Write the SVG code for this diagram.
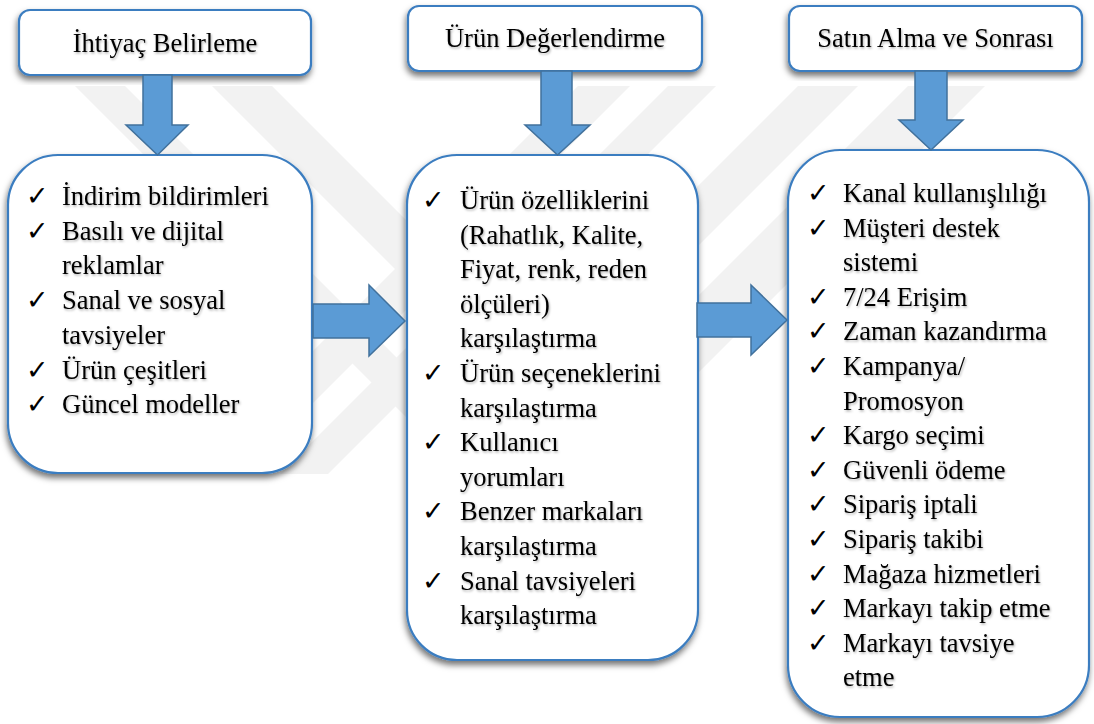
<svg xmlns="http://www.w3.org/2000/svg" width="1094" height="724" viewBox="0 0 1094 724">
  <defs>
    <filter id="boxShadow" x="-10%" y="-10%" width="120%" height="125%">
      <feDropShadow dx="-1" dy="4" stdDeviation="3" flood-color="#000" flood-opacity="0.55"/>
    </filter>
    <filter id="textShadow" x="-5%" y="-20%" width="110%" height="150%">
      <feDropShadow dx="1" dy="1.5" stdDeviation="0.8" flood-color="#000" flood-opacity="0.3"/>
    </filter>
    <clipPath id="wmClip">
      <rect x="0" y="86" width="1094" height="388"/>
    </clipPath>
    <style>
      .hdr { fill: #ffffff; stroke: #3b7dc0; stroke-width: 2.2; filter: url(#boxShadow); }
      .card { fill: #ffffff; stroke: #3b7dc0; stroke-width: 2.2; filter: url(#boxShadow); }
      .arrow { fill: #5b9bd5; stroke: #41719c; stroke-width: 1.5; stroke-linejoin: miter; }
      .title { font-family: "Liberation Serif", "Times New Roman", serif; font-size: 26.5px; fill: #000; text-anchor: middle; filter: url(#textShadow); }
      .item { font-family: "Liberation Serif", "Times New Roman", serif; font-size: 26.5px; fill: #000; filter: url(#textShadow); }
      .tick { font-family: "DejaVu Sans", sans-serif; font-size: 27px; fill: #000; }
      .wm { fill: #f2f2f2; }
    </style>
  </defs>

  <rect width="1094" height="724" fill="#ffffff"/>

  <!-- faint background watermark bands -->
  <g id="watermark" clip-path="url(#wmClip)">
    <polygon class="wm" points="75,86 125,86 525,486 475,486"/>
    <polygon class="wm" points="212,86 272,86 672,486 612,486"/>
    <polygon class="wm" points="578,86 630,86 230,486 178,486"/>
    <polygon class="wm" points="668,86 716,86 316,486 268,486"/>
    <polygon class="wm" points="798,86 858,86 458,486 398,486"/>
    <polygon class="wm" points="908,86 985,86 585,486 508,486"/>
  </g>

  <!-- stage headers -->
  <g id="header-ihtiyac">
    <rect class="hdr" x="19" y="10" width="292" height="65" rx="11"/>
    <text class="title" x="165" y="52">İhtiyaç Belirleme</text>
  </g>
  <g id="header-urun">
    <rect class="hdr" x="408" y="6" width="294" height="65" rx="11"/>
    <text class="title" x="555" y="47">Ürün Değerlendirme</text>
  </g>
  <g id="header-satin">
    <rect class="hdr" x="789" y="6" width="293" height="65" rx="11"/>
    <text class="title" x="935.5" y="47">Satın Alma ve Sonrası</text>
  </g>

  <!-- stage detail cards -->
  <g id="card-ihtiyac">
    <rect class="card" x="8" y="155" width="304" height="318" rx="50"/>
    <g class="tick">
      <text x="26" y="205">✓</text>
      <text x="26" y="239.7">✓</text>
      <text x="26" y="309.1">✓</text>
      <text x="26" y="378.5">✓</text>
      <text x="26" y="413.2">✓</text>
    </g>
    <g class="item">
      <text x="62" y="205">İndirim bildirimleri</text>
      <text x="62" y="239.7">Basılı ve dijital</text>
      <text x="62" y="274.4">reklamlar</text>
      <text x="62" y="309.1">Sanal ve sosyal</text>
      <text x="62" y="343.8">tavsiyeler</text>
      <text x="62" y="378.5">Ürün çeşitleri</text>
      <text x="62" y="413.2">Güncel modeller</text>
    </g>
  </g>

  <g id="card-urun">
    <rect class="card" x="407" y="155" width="291" height="505" rx="50"/>
    <g class="tick">
      <text x="422" y="209">✓</text>
      <text x="422" y="382">✓</text>
      <text x="422" y="451.2">✓</text>
      <text x="422" y="520.4">✓</text>
      <text x="422" y="589.6">✓</text>
    </g>
    <g class="item">
      <text x="460" y="209">Ürün özelliklerini</text>
      <text x="460" y="243.6">(Rahatlık, Kalite,</text>
      <text x="460" y="278.2">Fiyat, renk, reden</text>
      <text x="460" y="312.8">ölçüleri)</text>
      <text x="460" y="347.4">karşılaştırma</text>
      <text x="460" y="382">Ürün seçeneklerini</text>
      <text x="460" y="416.6">karşılaştırma</text>
      <text x="460" y="451.2">Kullanıcı</text>
      <text x="460" y="485.8">yorumları</text>
      <text x="460" y="520.4">Benzer markaları</text>
      <text x="460" y="555">karşılaştırma</text>
      <text x="460" y="589.6">Sanal tavsiyeleri</text>
      <text x="460" y="624.2">karşılaştırma</text>
    </g>
  </g>

  <g id="card-satin">
    <rect class="card" x="788" y="150" width="301" height="567" rx="52"/>
    <g class="tick">
      <text x="807" y="202">✓</text>
      <text x="807" y="236.6">✓</text>
      <text x="807" y="305.8">✓</text>
      <text x="807" y="340.4">✓</text>
      <text x="807" y="375">✓</text>
      <text x="807" y="444.2">✓</text>
      <text x="807" y="478.8">✓</text>
      <text x="807" y="513.4">✓</text>
      <text x="807" y="548">✓</text>
      <text x="807" y="582.6">✓</text>
      <text x="807" y="617.2">✓</text>
      <text x="807" y="651.8">✓</text>
    </g>
    <g class="item">
      <text x="843" y="202">Kanal kullanışlılığı</text>
      <text x="843" y="236.6">Müşteri destek</text>
      <text x="843" y="271.2">sistemi</text>
      <text x="843" y="305.8">7/24 Erişim</text>
      <text x="843" y="340.4">Zaman kazandırma</text>
      <text x="843" y="375">Kampanya/</text>
      <text x="843" y="409.6">Promosyon</text>
      <text x="843" y="444.2">Kargo seçimi</text>
      <text x="843" y="478.8">Güvenli ödeme</text>
      <text x="843" y="513.4">Sipariş iptali</text>
      <text x="843" y="548">Sipariş takibi</text>
      <text x="843" y="582.6">Mağaza hizmetleri</text>
      <text x="843" y="617.2">Markayı takip etme</text>
      <text x="843" y="651.8">Markayı tavsiye</text>
      <text x="843" y="686.4">etme</text>
    </g>
  </g>

  <!-- block arrows -->
  <g id="connectors">
    <polygon class="arrow" points="143,75 172,75 172,125 188,125 157.5,155 126,125 143,125"/>
    <polygon class="arrow" points="541,71 572,71 572,125 590,125 557.5,155 525,125 541,125"/>
    <polygon class="arrow" points="915,71 947,71 947,120 963,120 931,150 899,120 915,120"/>
    <polygon class="arrow" points="313,304 369,304 369,285 405,321 369,356 369,338 313,338"/>
    <polygon class="arrow" points="697,303 751,303 751,285 787,320 751,355 751,337 697,337"/>
  </g>
</svg>
